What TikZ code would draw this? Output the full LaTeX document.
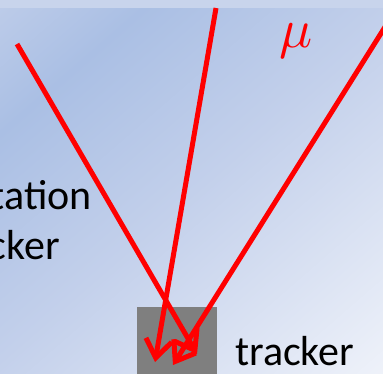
\documentclass[tikz,border=0pt]{standalone}
\usepackage{fontspec}
\setmainfont{Carlito}
\usetikzlibrary{arrows.meta,positioning}
\definecolor{bgstrip}{HTML}{C8D4EC}
\definecolor{bgA}{HTML}{BDCCE9}
\definecolor{bgB}{HTML}{AABFE4}
\definecolor{bgC}{HTML}{C3D0EB}
\definecolor{bgD}{HTML}{F0F3FA}
\definecolor{detgray}{HTML}{7F7F7F}
\pgfdeclarehorizontalshading{slidebg}{800bp}{color(0bp)=(bgA); color(100bp)=(bgB); color(270bp)=(bgC); color(540bp)=(bgD)}

\begin{document}
\begin{tikzpicture}[x=1pt,y=-1pt,
    track/.style={red, line width=5pt, -{Straight Barb[length=18pt,width=26pt]}},
    lbl/.style={inner sep=0pt, font=\fontsize{42}{50}\selectfont}]
  \useasboundingbox (0,0) rectangle (383,373);
  \clip (0,0) rectangle (383,373);

  % slide background
  \node[inner sep=0pt, rotate=-49, anchor=west] (bg) at (0,0) {\pgfuseshading{slidebg}};
  \fill[bgstrip] (0,0) rectangle (383,8);

  \node[fill=detgray, minimum width=80pt, minimum height=70pt, inner sep=0pt, anchor=north west] (det) at (137,307) {};

  \node[lbl, anchor=base east] (rot1) at (92,209) {tation};
  \node[lbl, anchor=base east] (rot2) at (60,259) {cker};
  \node[lbl, anchor=base west] (trk) at (235,365) {tracker};
  \node[inner sep=0pt, anchor=base, text=red, scale=5.5] (mu) at (296,47) {$\mu$};

  % muon tracks
  \coordinate (in1) at (17,44);
  \coordinate (in2) at (216,8);
  \coordinate (in3) at (390,19);
  \coordinate (hit1) at (197,354);
  \coordinate (hit2) at (155,362);
  \coordinate (hit3) at (173,365);
  \draw[track] (in1) -- (hit1);
  \draw[track] (in2) -- (hit2);
  \draw[track] (in3) -- (hit3);
\end{tikzpicture}
\end{document}
